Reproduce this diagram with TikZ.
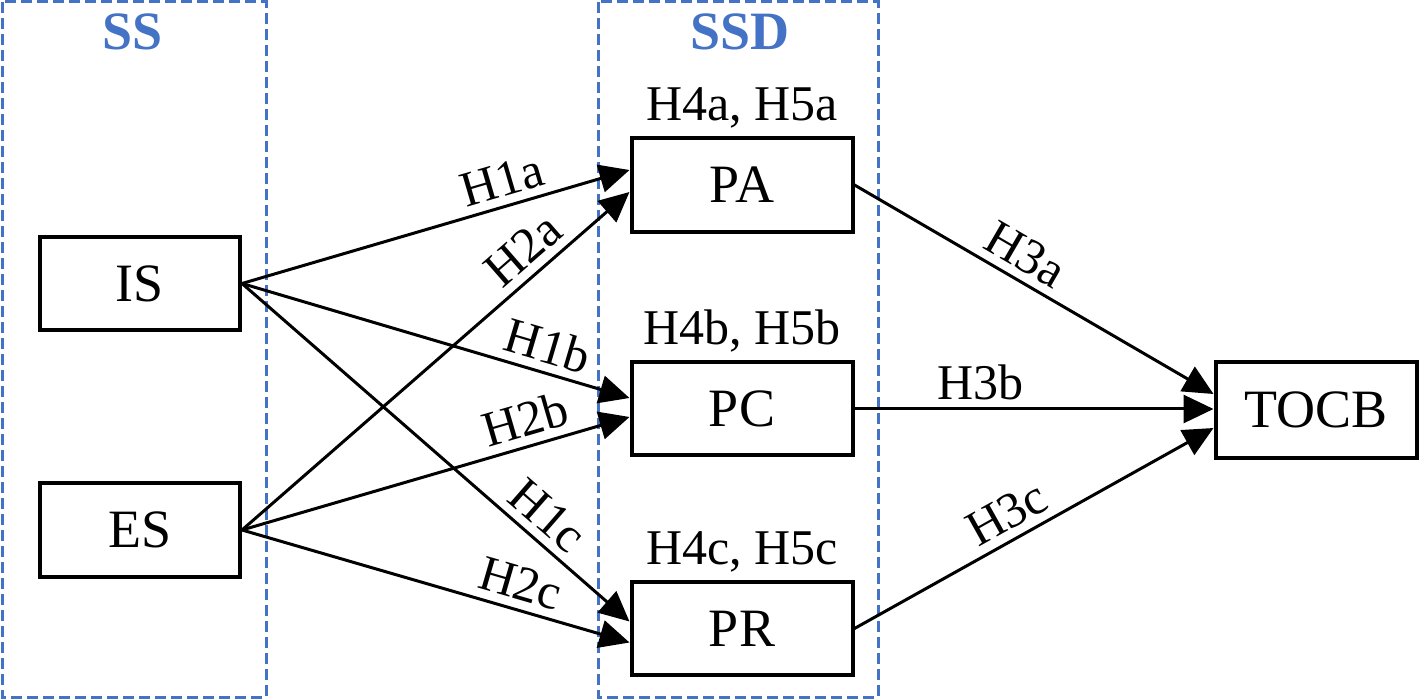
\documentclass[tikz,border=0pt]{standalone}
\usepackage{fontspec}
\setmainfont{Liberation Serif}
\usetikzlibrary{arrows.meta,calc}
\definecolor{grpblue}{HTML}{4472C4}
\begin{document}
\begin{tikzpicture}[x=0.5pt,y=-0.5pt,
  box/.style={draw=black,line width=2pt,inner sep=0pt,font=\fontsize{27}{30}\selectfont},
  grp/.style={draw=grpblue,line width=1.5pt,dash pattern=on 5.5pt off 2.5pt},
  grptitle/.style={text=grpblue,font=\fontsize{27}{30}\selectfont\bfseries,anchor=base},
  hyp/.style={font=\fontsize{25}{28}\selectfont,anchor=base},
  conn/.style={line width=1.5pt,-{Triangle[length=15pt,width=14pt]}},
  lbl/.style={font=\fontsize{25}{28}\selectfont,sloped,above,inner sep=4pt}]
\useasboundingbox (0,0) rectangle (1421,700);
% groups
\draw[grp] (2,2) rectangle (266,697);
\draw[grp] (598,2) rectangle (878,697);
\node[grptitle] (ttlSS) at (133,50) {SS};
\node[grptitle] (ttlSSD) at (740,50) {SSD};
% nodes
\node[box,minimum width=100pt,minimum height=46.5pt] (IS) at (140,283.5) {IS};
\node[box,minimum width=100pt,minimum height=47pt] (ES) at (140,530) {ES};
\node[box,minimum width=110.5pt,minimum height=47pt] (PA) at (742,185) {PA};
\node[box,minimum width=110.5pt,minimum height=46.5pt] (PC) at (742,409) {PC};
\node[box,minimum width=110.5pt,minimum height=46.5pt] (PR) at (742,628.5) {PR};
\node[box,minimum width=100.5pt,minimum height=48pt] (TOCB) at (1316,410) {TOCB};
% hypotheses above mediators
\node[hyp] (hA) at (742,121) {H4a, H5a};
\node[hyp] (hB) at (742,345) {H4b, H5b};
\node[hyp] (hC) at (742,565) {H4c, H5c};
% connectors
\draw[conn] (IS.east) -- ($(PA.west)+(0,-15)$) node[lbl,pos=0.69] {H1a};
\draw[conn] (ES.east) -- ($(PA.west)+(0,7)$) node[lbl,pos=0.77] {H2a};
\draw[conn] (IS.east) -- ($(PC.west)+(0,-11)$) node[lbl,pos=0.77] {H1b};
\draw[conn] (ES.east) -- ($(PC.west)+(0,8)$) node[lbl,pos=0.75] {H2b};
\draw[conn] (IS.east) -- ($(PR.west)+(0,-7)$) node[lbl,pos=0.745] {H1c};
\draw[conn] (ES.east) -- ($(PR.west)+(0,14)$) node[lbl,pos=0.7] {H2c};
\draw[conn] (PA.east) -- ($(TOCB.west)+(0,-16)$) node[lbl,pos=0.44] {H3a};
\draw[conn] (PC.east) -- (TOCB.west |- PC.east) node[lbl,pos=0.35] {H3b};
\draw[conn] (PR.east) -- ($(TOCB.west)+(0,18)$) node[lbl,pos=0.46] {H3c};
\end{tikzpicture}
\end{document}
